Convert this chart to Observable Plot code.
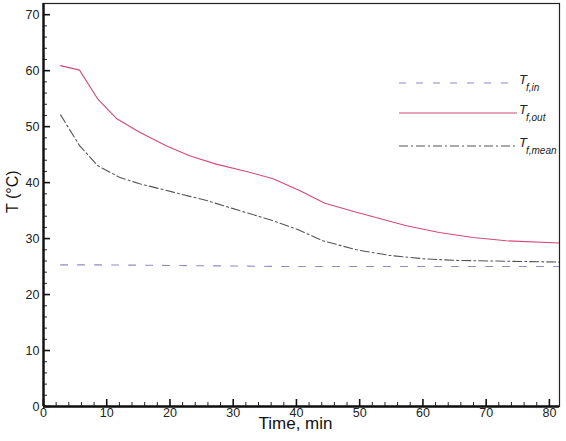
<!DOCTYPE html>
<html>
<head>
<meta charset="utf-8">
<script src="https://cdn.jsdelivr.net/npm/d3@7"></script>
<script src="https://cdn.jsdelivr.net/npm/@observablehq/plot@0.6"></script>
<style>
  html, body { margin: 0; padding: 0; background: #fff; }
  #chart svg { display: block; font-family: "Liberation Sans", Arial, sans-serif; }
</style>
</head>
<body>
<div id="chart"></div>
<script>
// ---- data ----
const timeIn   = [2.7, 10, 20, 30, 40, 60, 81.6];
const tempIn   = [25.3, 25.3, 25.2, 25.1, 25.0, 25.0, 25.0];

const timeOut  = [2.7, 5.7, 8.6, 11.6, 15.2, 19.4, 23.1, 27.3, 32.1, 36.3, 40.5, 44.5, 49.5, 57.4, 62.6, 67.9, 73.2, 81.6];
const tempOut  = [60.9, 60.1, 54.9, 51.4, 49.0, 46.6, 44.8, 43.3, 42.0, 40.7, 38.6, 36.3, 34.7, 32.3, 31.1, 30.2, 29.6, 29.2];

const timeMean = [2.7, 5.7, 8.6, 12.0, 15.2, 20.5, 25.8, 31.0, 36.3, 40.0, 44.2, 49.5, 54.7, 60.0, 65.3, 70.5, 81.6];
const tempMean = [52.1, 46.6, 43.0, 40.95, 39.8, 38.3, 36.8, 35.0, 33.2, 31.7, 29.6, 28.0, 27.0, 26.4, 26.1, 26.0, 25.8];

const xMajor = [0, 10, 20, 30, 40, 50, 60, 70, 80];
const yMajor = [0, 10, 20, 30, 40, 50, 60, 70];
const xMinor = d3.range(2, 81, 2).filter(v => v % 10 !== 0);
const yMinor = d3.range(2, 71, 2).filter(v => v % 10 !== 0);

const series = [
  {key: "in",   sub: "f,in",   time: timeIn,   temp: tempIn,   stroke: "#8c8cc6", dash: "7,10"},
  {key: "out",  sub: "f,out",  time: timeOut,  temp: tempOut,  stroke: "#d2497b", dash: null},
  {key: "mean", sub: "f,mean", time: timeMean, temp: tempMean, stroke: "#555555", dash: "9,3,2,3"}
];

const rows = s => s.time.map((t, i) => ({t, T: s.temp[i]}));

const lineMarks = series.map(s => Plot.line(rows(s), {
  x: "t", y: "T", stroke: s.stroke, strokeWidth: 1.1,
  strokeDasharray: s.dash ?? undefined
}));

const chart = Plot.plot({
  width: 566,
  height: 441,
  marginLeft: 43,
  marginRight: 7,
  marginTop: 3,
  marginBottom: 35,
  style: {fontFamily: "Liberation Sans, Arial, sans-serif", color: "#222", background: "#fff"},
  x: {domain: [0, 81.6], label: null},
  y: {domain: [0, 72], label: null},
  marks: [
    ...lineMarks,
    Plot.frame({stroke: "#222", strokeWidth: 1.2}),
    Plot.axisX(xMinor, {tickSize: -4, tickFormat: () => "", label: null, stroke: "#222"}),
    Plot.axisY(yMinor, {tickSize: -4, tickFormat: () => "", label: null, stroke: "#222"}),
    Plot.axisX(xMajor, {tickSize: -7, tickPadding: 9, fontSize: 12.5, label: null, stroke: "#111", strokeWidth: 1.6}),
    Plot.axisY(yMajor, {tickSize: -7, tickPadding: 11, fontSize: 12.5, label: null, stroke: "#111", strokeWidth: 1.6}),
    Plot.ruleX([0], {stroke: "#111", strokeWidth: 2.4}),
    Plot.ruleY([0], {stroke: "#111", strokeWidth: 2.4}),
    Plot.text(["T (°C)"], {frameAnchor: "left", rotate: -90, dx: -31, dy: 8, fontSize: 16, fill: "#111"}),
    Plot.text(["Time, min"], {frameAnchor: "bottom", dy: 22, dx: -6, fontSize: 17, fill: "#111"})
  ]
});

// ---- legend (top right, inside the frame) ----
const svg = d3.select(chart);
const legendY = [83, 113, 146];
const lg = svg.append("g").attr("class", "legend");
series.forEach((s, i) => {
  const y = legendY[i];
  lg.append("line")
    .attr("x1", 399).attr("x2", 517).attr("y1", y).attr("y2", y)
    .attr("stroke", s.stroke).attr("stroke-width", 1.1)
    .attr("stroke-dasharray", s.dash);
  const t = lg.append("text")
    .attr("x", 519).attr("y", y + 1)
    .attr("text-anchor", "start")
    .attr("font-size", 13).attr("font-style", "italic").attr("fill", "#222");
  t.append("tspan").text("T");
  t.append("tspan").attr("dy", 7).attr("dx", -1).attr("font-size", 10).text(s.sub);
});

document.getElementById("chart").appendChild(chart);
</script>
</body>
</html>
